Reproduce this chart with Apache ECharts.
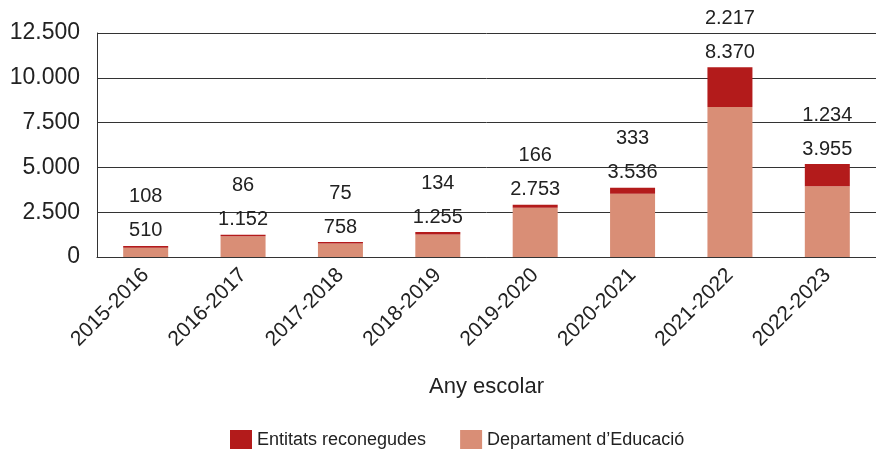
<!DOCTYPE html>
<html><head><meta charset="utf-8">
<script src="https://cdn.jsdelivr.net/npm/echarts@6/dist/echarts.min.js"></script>
<style>html,body{margin:0;padding:0;background:#fff}#c{width:876px;height:449px}</style>
</head><body><div id="c"></div>
<script>
var categories = ['2015-2016','2016-2017','2017-2018','2018-2019','2019-2020','2020-2021','2021-2022','2022-2023'];
var departament = [510, 1152, 758, 1255, 2753, 3536, 8370, 3955];
var entitats = [108, 86, 75, 134, 166, 333, 2217, 1234];
var yTicks = [0, 2500, 5000, 7500, 10000, 12500];

function fmt(v){ return String(v).replace(/\B(?=(\d{3})+(?!\d))/g, '.'); }
var FONT = '"Liberation Sans", Arial, sans-serif';
var chart = echarts.init(document.getElementById('c'));
chart.setOption({
  animation: false,
  textStyle: {fontFamily: FONT},
  grid: {left: 97, right: -5, top: 33, bottom: 192, containLabel: false},
  legend: {
    left: 225, top: 425, itemWidth: 22, itemHeight: 20, itemGap: 34,
    icon: 'rect',
    data: ['Entitats reconegudes', 'Departament d\u2019Educació'],
    textStyle: {fontFamily: FONT, fontSize: 18, color: '#222'}
  },
  xAxis: {
    type: 'category', data: categories,
    name: 'Any escolar', nameLocation: 'middle', nameGap: 119,
    nameTextStyle: {fontFamily: FONT, fontSize: 22, color: '#222'},
    axisLine: {lineStyle: {color: '#333', width: 1}},
    axisTick: {inside: true, length: 6, lineStyle: {color: '#333'}},
    axisLabel: {rotate: 45, fontSize: 21, color: '#222', margin: 15, fontFamily: FONT}
  },
  yAxis: {
    type: 'value', min: yTicks[0], max: yTicks[yTicks.length-1], interval: 2500,
    axisLine: {show: true, lineStyle: {color: '#333', width: 1}},
    axisTick: {show: false},
    splitLine: {lineStyle: {color: '#333', width: 1}},
    axisLabel: {fontSize: 23, color: '#222', margin: 17, fontFamily: FONT, formatter: function(v){ return fmt(v); }}
  },
  series: [
    {name: 'Departament d\u2019Educació', type: 'bar', stack: 't', data: departament, barWidth: 45,
     itemStyle: {color: '#D98E76'}},
    {name: 'Entitats reconegudes', type: 'bar', stack: 't', data: entitats, barWidth: 45,
     itemStyle: {color: '#B31B1B'},
     label: {show: true, position: 'top', distance: 2,
       formatter: function(p){ return '{a|' + fmt(entitats[p.dataIndex]) + '}\n{b|' + fmt(departament[p.dataIndex]) + '}'; },
       rich: {
         a: {fontSize: 20, color: '#222', lineHeight: 42, fontFamily: FONT},
         b: {fontSize: 20, color: '#222', lineHeight: 26, fontFamily: FONT}
       }}}
  ]
});
</script></body></html>
